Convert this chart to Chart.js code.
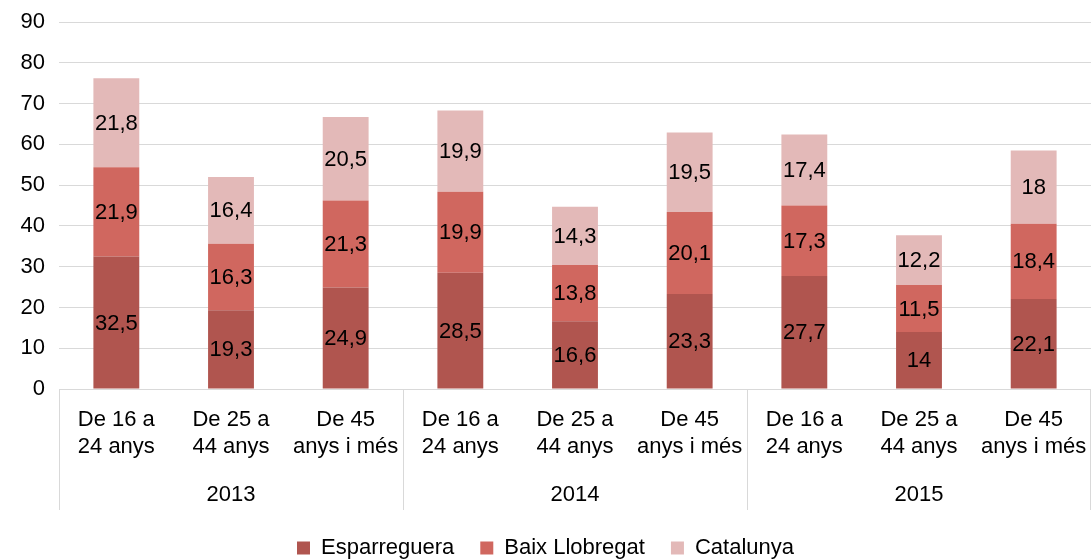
<!DOCTYPE html>
<html>
<head>
<meta charset="utf-8">
<script src="https://cdn.jsdelivr.net/npm/chart.js@4/dist/chart.umd.min.js"></script>
<style>
  html, body { margin: 0; padding: 0; background: #fff; overflow: hidden; }
  #wrap { width: 1091px; height: 560px; }
</style>
</head>
<body>
<div id="wrap"><canvas id="barChart" width="1091" height="560"></canvas></div>
<script>
const ageLabels = [
    ['De 16 a', '24 anys'],
    ['De 25 a', '44 anys'],
    ['De 45', 'anys i més'],
    ['De 16 a', '24 anys'],
    ['De 25 a', '44 anys'],
    ['De 45', 'anys i més'],
    ['De 16 a', '24 anys'],
    ['De 25 a', '44 anys'],
    ['De 45', 'anys i més'],
];
const years = ['2013', '2014', '2015'];

const esparreguera = [32.5, 19.3, 24.9, 28.5, 16.6, 23.3, 27.7, 14, 22.1];
const baixLlobregat = [21.9, 16.3, 21.3, 19.9, 13.8, 20.1, 17.3, 11.5, 18.4];
const catalunya = [21.8, 16.4, 20.5, 19.9, 14.3, 19.5, 17.4, 12.2, 18];

const FONT = '"Liberation Sans", Arial, sans-serif';
const GRID = '#d9d9d9';

// value labels inside bars + year row under the categories
const overlay = {
    id: 'overlay',
    afterDatasetsDraw(chart) {
        const ctx = chart.ctx;
        ctx.save();
        ctx.font = '22px ' + FONT;
        ctx.fillStyle = '#000';
        ctx.textAlign = 'center';
        ctx.textBaseline = 'middle';
        chart.data.datasets.forEach((ds, i) => {
            chart.getDatasetMeta(i).data.forEach((bar, j) => {
                const y = (bar.y + bar.base) / 2;
                ctx.fillText(String(ds.data[j]).replace('.', ','), bar.x, y + 1);
            });
        });

        const xs = chart.scales.x;
        const top = chart.chartArea.bottom;
        const per = ageLabels.length / years.length;
        const edges = [xs.left];
        for (let g = 1; g < years.length; g++) {
            edges.push((xs.getPixelForValue(g * per - 1) + xs.getPixelForValue(g * per)) / 2);
        }
        edges.push(xs.right - 1);
        ctx.strokeStyle = GRID;
        ctx.lineWidth = 1;
        edges.forEach(e => {
            const px = Math.round(e) + 0.5;
            ctx.beginPath();
            ctx.moveTo(px, top);
            ctx.lineTo(px, top + 121);
            ctx.stroke();
        });
        years.forEach((yr, g) => {
            ctx.fillText(yr, xs.getPixelForValue(g * per + (per - 1) / 2), top + 106);
        });
        ctx.restore();
    }
};

const barChart = new Chart(document.getElementById('barChart'), {
    type: 'bar',
    data: {
        labels: ageLabels,
        datasets: [
            { label: 'Esparreguera', data: esparreguera, backgroundColor: '#b0554f' },
            { label: 'Baix Llobregat', data: baixLlobregat, backgroundColor: '#d0675f' },
            { label: 'Catalunya', data: catalunya, backgroundColor: '#e3b9b8' },
        ]
    },
    options: {
        responsive: false,
        animation: false,
        categoryPercentage: 1,
        barPercentage: 0.4,
        layout: { padding: { top: 22, right: 0, left: 0, bottom: -9 } },
        scales: {
            x: {
                stacked: true,
                grid: { display: false, drawTicks: false },
                border: { display: true, color: GRID },
                ticks: {
                    color: '#000',
                    maxRotation: 0,
                    autoSkip: false,
                    padding: 17,
                    font: { family: FONT, size: 22, lineHeight: 1.25 }
                },
                afterFit: (scale) => {
                    scale.height = 122;
                    scale.paddingLeft = 0;
                    scale.paddingRight = 0;
                }
            },
            y: {
                stacked: true,
                min: 0,
                max: 90,
                grid: { color: GRID, drawTicks: false },
                border: { display: false },
                ticks: {
                    stepSize: 10,
                    color: '#000',
                    padding: 14,
                    font: { family: FONT, size: 22 }
                },
                afterFit: (scale) => {
                    scale.width = 59;
                    scale.paddingTop = 0;
                    scale.paddingBottom = 0;
                }
            }
        },
        plugins: {
            legend: {
                position: 'bottom',
                labels: {
                    boxWidth: 13,
                    boxHeight: 13,
                    padding: 26,
                    color: '#000',
                    font: { family: FONT, size: 22 }
                }
            },
            tooltip: { enabled: false }
        }
    },
    plugins: [overlay]
});
</script>
</body>
</html>
